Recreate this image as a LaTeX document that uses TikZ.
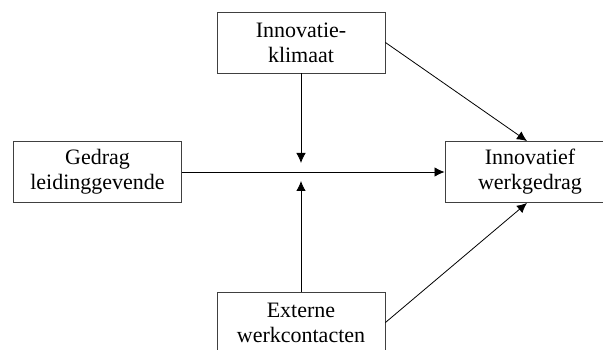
\documentclass[tikz,border=0pt]{standalone}
\usepackage{fontspec}
\setmainfont{Liberation Serif}
\usetikzlibrary{arrows.meta}
\begin{document}
\begin{tikzpicture}[x=1pt,y=-1pt,
  box/.style={draw=black!75,line width=0.9pt,minimum width=168pt,minimum height=61pt,align=center,inner sep=0pt,font=\fontsize{22pt}{25pt}\selectfont},
  arr/.style={line width=0.8pt,-{Latex[length=10pt,width=9.5pt]}}]
\useasboundingbox (0,0) rectangle (603,350);
\begin{scope}
\clip (0,0) rectangle (603,350);
\node[box] (kl) at (301,42.5) {Innovatie-\\klimaat};
\node[box] (gl) at (97.5,172) {Gedrag\\leidinggevende};
\node[box,minimum width=170pt] (iw) at (530,172) {Innovatief\\werkgedrag};
\node[box] (ew) at (301,322.5) {Externe\\werkcontacten};
\coordinate (m1) at (301,163);
\coordinate (m2) at (301,181);
\draw[arr] (gl.east) -- (iw.west);
\draw[arr] (kl.south) -- (m1);
\draw[arr] (ew.north) -- (m2);
\draw[arr] (kl.east) -- ([xshift=-3pt]iw.north);
\draw[arr] (ew.east) -- ([xshift=-3pt]iw.south);
\end{scope}
\end{tikzpicture}
\end{document}
